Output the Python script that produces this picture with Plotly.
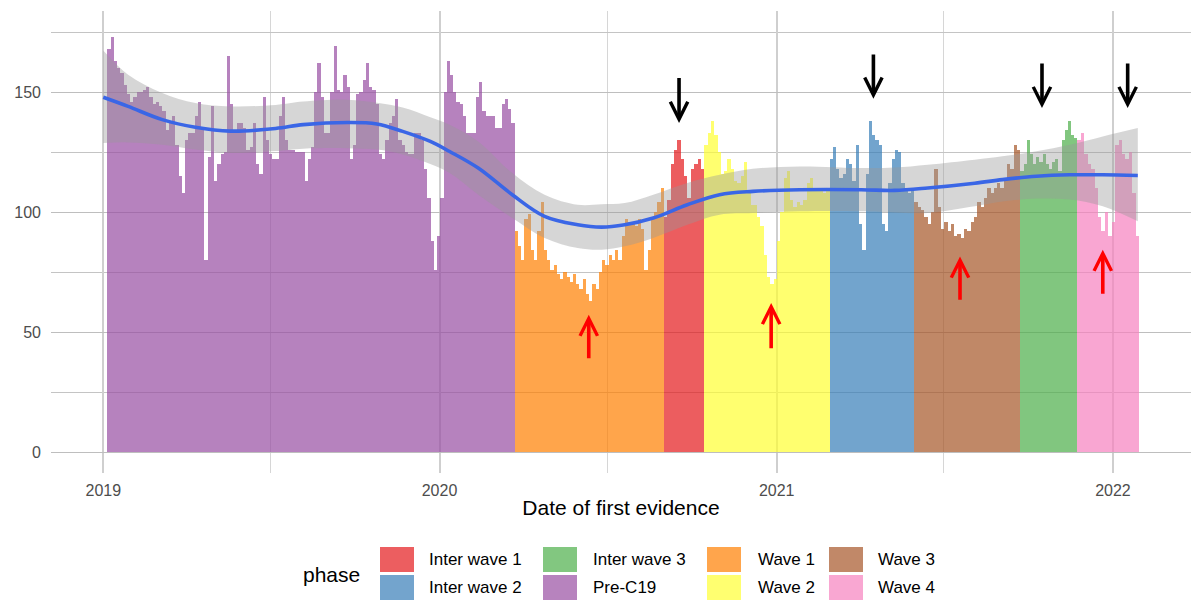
import pandas as pd
import plotly.graph_objects as go

# ---------------- data ----------------
phases = ["Pre-C19", "Wave 1", "Inter wave 1", "Wave 2",
          "Inter wave 2", "Wave 3", "Inter wave 3", "Wave 4"]
phase_start = ["2019-01-06", "2020-03-23", "2020-09-01", "2020-10-15",
               "2021-02-28", "2021-05-31", "2021-09-23", "2021-11-24"]
data_end = "2022-01-30"

pre_c19 = [168, 173, 163, 160, 158, 153, 149, 146, 148, 150, 150, 151, 152, 148, 145,
           146, 144, 142, 134, 138, 140, 128, 115, 108, 130, 133, 133, 140, 146, 135,
           80, 123, 144, 113, 120, 124, 125, 165, 145, 133, 137, 137, 135, 126, 127,
           137, 120, 116, 148, 130, 124, 122, 122, 140, 148, 130, 126, 126, 125, 125,
           125, 113, 122, 127, 150, 162, 148, 133, 133, 150, 169, 151, 150, 157, 152,
           122, 128, 149, 150, 155, 162, 152, 151, 145, 124, 122, 130, 137, 140, 147,
           130, 128, 125, 124, 124, 133, 133, 130, 118, 106, 88, 76, 90, 106, 150,
           163, 157, 150, 146, 145, 140, 133, 133, 133, 148, 154, 142, 140, 140, 140,
           135, 135, 145, 147, 143, 137]
wave_1 = [92, 86, 80, 97, 99, 84, 80, 92, 104, 84, 80, 76, 78, 74, 72, 75, 73, 71,
          74, 70, 68, 72, 66, 63, 70, 68, 75, 80, 78, 82, 80, 84, 80, 90, 97, 96,
          96, 94, 97, 93, 76, 84, 97, 100, 104, 110]
inter_wave_1 = [98, 105, 120, 126, 130, 122, 115, 106, 118, 120, 122, 118]
wave_2 = [128, 133, 138, 132, 125, 116, 117, 122, 118, 113, 112, 115, 121, 108, 103,
          103, 98, 94, 82, 73, 70, 72, 88, 100, 114, 117, 105, 102, 104, 103, 105,
          112, 114, 110, 109, 110, 108, 109]
inter_wave_2 = [122, 127, 118, 114, 116, 122, 120, 113, 128, 95, 84, 116, 138, 132,
                130, 128, 95, 92, 112, 122, 126, 125, 112, 110, 108, 110]
wave_3 = [104, 102, 101, 98, 95, 100, 118, 102, 93, 96, 92, 95, 90, 91, 89, 93, 92,
          96, 98, 104, 102, 106, 110, 108, 110, 112, 110, 114, 120, 118, 128, 126]
inter_wave_3 = [117, 120, 130, 124, 120, 123, 121, 124, 120, 118, 121, 122, 117, 130,
                134, 138, 132, 131]
wave_4 = [130, 133, 124, 120, 118, 110, 98, 92, 100, 90, 96, 128, 130, 124, 122,
          125, 108, 90]
phase_values = [pre_c19, wave_1, inter_wave_1, wave_2,
                inter_wave_2, wave_3, inter_wave_3, wave_4]

phase_colors = {"Inter wave 1": "#E41A1C", "Inter wave 2": "#377EB8",
                "Inter wave 3": "#4DAF4A", "Pre-C19": "#984EA3",
                "Wave 1": "#FF7F00", "Wave 2": "#FFFF33",
                "Wave 3": "#A65628", "Wave 4": "#F781BF"}
legend_order = [["Inter wave 1", "Inter wave 2"], ["Inter wave 3", "Pre-C19"],
                ["Wave 1", "Wave 2"], ["Wave 3", "Wave 4"]]

# loess smooth with confidence band
smooth_dates = ["2019-01-01", "2019-01-28", "2019-03-06", "2019-04-11", "2019-05-19",
                "2019-07-07", "2019-08-06", "2019-09-23", "2019-10-25", "2019-11-22",
                "2019-12-22", "2020-01-12", "2020-02-12", "2020-03-20", "2020-04-24",
                "2020-05-30", "2020-06-25", "2020-07-20", "2020-08-20", "2020-09-26",
                "2020-10-31", "2020-12-06", "2021-01-26", "2021-04-03", "2021-05-09",
                "2021-06-14", "2021-08-04", "2021-09-03", "2021-10-10", "2021-11-15",
                "2021-12-21", "2022-01-28"]
smooth_fit = [147.8, 144.0, 138.5, 135.3, 133.7, 134.8, 136.4, 137.3, 136.7, 133.6,
              129.4, 125.2, 118.3, 107.2, 98.2, 94.7, 93.7, 94.7, 97.5, 103.0,
              107.2, 108.6, 109.3, 109.3, 109.0, 110.0, 112.0, 113.5, 114.9, 115.5,
              115.5, 115.2]
smooth_lower = [128.7, 129.0, 128.0, 126.0, 124.6, 125.4, 126.4, 126.6, 126.0, 124.0,
                120.0, 116.2, 107.2, 97.5, 89.2, 85.0, 84.3, 85.7, 89.2, 94.7,
                98.9, 99.6, 100.3, 100.3, 99.8, 99.6, 102.4, 104.4, 105.6, 105.2,
                102.4, 96.1]
smooth_upper = [167.3, 157.2, 149.6, 145.4, 144.0, 144.6, 146.0, 146.8, 145.5, 143.5,
                139.5, 136.4, 129.4, 116.2, 107.2, 103.0, 103.2, 103.7, 107.2, 112.1,
                115.5, 118.0, 119.0, 118.3, 118.5, 119.7, 121.8, 123.2, 125.3, 128.0,
                131.5, 135.0]

# arrows: (date, tip value, tail value, colour)
arrows = [("2020-09-17", 137.1, 156.5, "black"), ("2021-04-16", 147.2, 166.2, "black"),
          ("2021-10-16", 143.3, 162.5, "black"), ("2022-01-17", 143.3, 162.5, "black"),
          ("2020-06-11", 57.2, 38.4, "red"), ("2020-12-26", 62.1, 42.6, "red"),
          ("2021-07-19", 81.5, 62.8, "red"), ("2021-12-21", 84.3, 65.3, "red")]

y_ticks = [0, 50, 100, 150]
x_tick_dates = ["2019-01-01", "2020-01-01", "2021-01-01", "2022-01-01"]
x_tick_text = ["2019", "2020", "2021", "2022"]

# ---------------- figure ----------------
W, H = 1195, 601
ML, MR, MT, MB = 51, 4, 11, 128
PW, PH = W - ML - MR, H - MT - MB
FONT = "Liberation Sans, Arial, sans-serif"

fig = go.Figure()

half_day = pd.Timedelta(hours=12)
edges = [pd.Timestamp(s) - half_day for s in phase_start] + [pd.Timestamp(data_end) - half_day]
for i, (ph, vals) in enumerate(zip(phases, phase_values)):
    a, b = edges[i], edges[i + 1]
    step = (b - a) / len(vals)
    centers = [a + step * (j + 0.5) for j in range(len(vals))]
    fig.add_trace(go.Bar(
        x=centers, y=vals, width=[step.total_seconds() * 1000] * len(vals),
        marker=dict(color=phase_colors[ph], line=dict(width=0)), opacity=0.7,
        name=ph, showlegend=False, hoverinfo="x+y+name"))

fig.add_trace(go.Scatter(x=smooth_dates, y=smooth_lower, mode="lines",
                         line=dict(width=0, shape="spline"), showlegend=False,
                         hoverinfo="skip"))
fig.add_trace(go.Scatter(x=smooth_dates, y=smooth_upper, mode="lines",
                         line=dict(width=0, shape="spline"), fill="tonexty",
                         fillcolor="rgba(153,153,153,0.4)", showlegend=False,
                         hoverinfo="skip"))
fig.add_trace(go.Scatter(x=smooth_dates, y=smooth_fit, mode="lines",
                         line=dict(color="#3A66E6", width=3.6, shape="spline"),
                         showlegend=False))

for d, tip, tail, col in arrows:
    fig.add_annotation(x=d, y=tip, ax=d, ay=tail, xref="x", yref="y",
                       axref="x", ayref="y", text="", showarrow=True,
                       arrowhead=5, arrowsize=0.95, arrowwidth=3.6,
                       arrowcolor=col, standoff=0, startstandoff=0)

# custom legend (ggplot style, bottom)
def px_x(px):
    return (px - ML) / PW

def px_y(py):
    return (H - MB - py) / PH

col_box_x = [380, 543, 707, 829]
col_text_x = [427, 591, 756, 876]
row_y = [(547, 572), (575, 600)]
for c, pair in enumerate(legend_order):
    for r, ph in enumerate(pair):
        y0, y1 = row_y[r]
        fig.add_shape(type="rect", xref="paper", yref="paper",
                      x0=px_x(col_box_x[c]), x1=px_x(col_box_x[c] + 34),
                      y0=px_y(y1), y1=px_y(y0),
                      fillcolor=phase_colors[ph], opacity=0.7,
                      line=dict(width=0))
        fig.add_annotation(x=px_x(col_text_x[c]), y=px_y((y0 + y1) / 2),
                           xref="paper", yref="paper", text=ph, showarrow=False,
                           xanchor="left", yanchor="middle",
                           font=dict(family=FONT, size=17, color="black"))
fig.add_annotation(x=px_x(301), y=px_y(574), xref="paper", yref="paper",
                   text="phase", showarrow=False, xanchor="left", yanchor="middle",
                   font=dict(family=FONT, size=21, color="black"))

x0 = pd.Timestamp("2019-01-01") - pd.Timedelta(days=56.75)
x1 = pd.Timestamp("2019-01-01") + pd.Timedelta(days=1180.75)

fig.update_layout(
    width=W, height=H, margin=dict(l=ML, r=MR, t=MT, b=MB, pad=0),
    paper_bgcolor="white", plot_bgcolor="white", bargap=0, barmode="overlay",
    font=dict(family=FONT, size=16, color="#4D4D4D"),
    showlegend=False,
    xaxis=dict(range=[x0, x1], type="date", tickmode="array",
               tickvals=x_tick_dates, ticktext=x_tick_text,
               showgrid=True, gridcolor="#CFCFCF", gridwidth=1.6,
               minor=dict(dtick="M6", tick0="2019-01-01", showgrid=True,
                          gridcolor="#D6D6D6", gridwidth=1.3),
               ticks="", showline=False, zeroline=False,
               ticklabelstandoff=6,
               tickfont=dict(family=FONT, size=16, color="#4D4D4D"),
               title=dict(text="Date of first evidence", standoff=2,
                          font=dict(family=FONT, size=21, color="black"))),
    yaxis=dict(range=[-8.75, 183.75], tickmode="array", tickvals=y_ticks,
               showgrid=True, gridcolor="#BEBEBE", gridwidth=1.2,
               minor=dict(dtick=25, tick0=0, showgrid=True, gridcolor="#C4C4C4",
                          gridwidth=1.1),
               ticks="", showline=False, zeroline=False,
               ticklabelstandoff=9,
               tickfont=dict(family=FONT, size=16, color="#4D4D4D")),
)

fig.write_html("out.html")
